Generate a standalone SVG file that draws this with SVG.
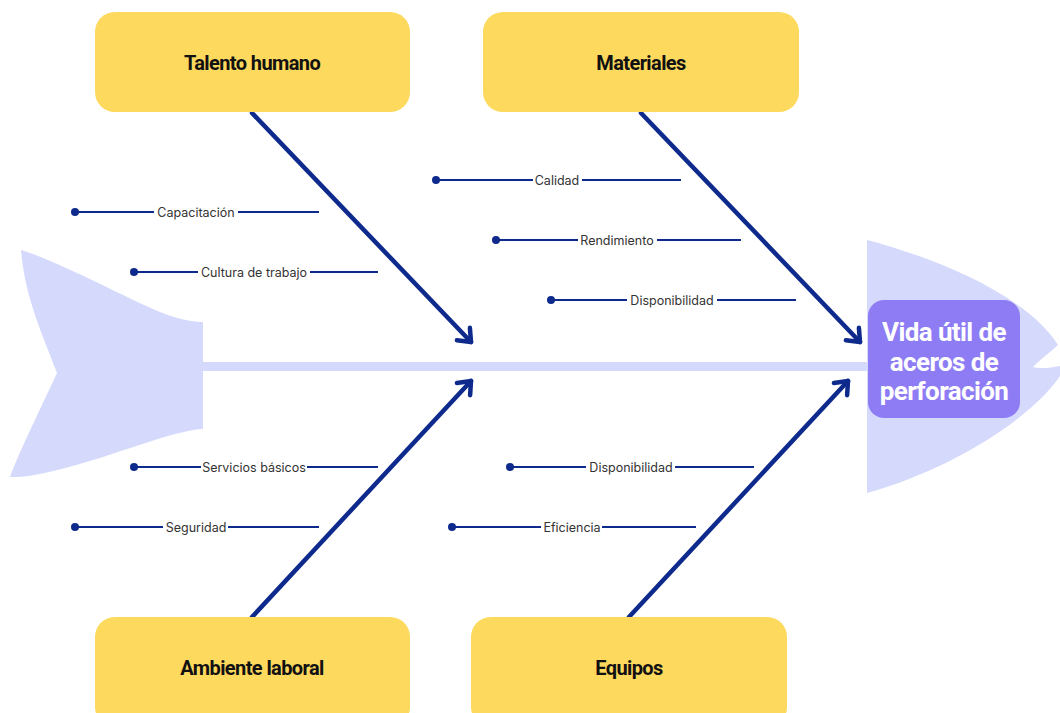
<svg xmlns="http://www.w3.org/2000/svg" width="1060" height="713" viewBox="0 0 1060 713">
<style>
.fish{fill:#D5DAFC}
.cat{fill:#FDD95D}
.cattxt{font-family:Roboto,"Liberation Sans",sans-serif;font-weight:700;font-size:20px;fill:#111;text-anchor:middle;letter-spacing:-0.6px}
.eff{fill:#8E7CF5}
.efftxt{font-family:Roboto,"Liberation Sans",sans-serif;font-weight:700;font-size:26px;fill:#fff;text-anchor:middle;letter-spacing:-0.6px}
.bone{stroke:#0E2A8C;stroke-width:4.5;fill:none;stroke-linecap:round}
.sub{stroke:#0E2A8C;stroke-width:2;fill:none}
.dot{fill:#0E2A8C}
.lbl{font-family:Inter,"Liberation Sans",sans-serif;font-size:12.5px;fill:#333;text-anchor:middle}
</style>
<defs>
<marker id="ah" markerUnits="userSpaceOnUse" viewBox="-16 -14 20 28" refX="0" refY="0" markerWidth="20" markerHeight="28" orient="auto">
<path d="M-11,-9 L0,0 L-11,9" stroke="#0E2A8C" stroke-width="4.5" fill="none" stroke-linecap="round" stroke-linejoin="round"/>
</marker>
</defs>
<g id="fish">
<path class="fish" d="M21,250 C60,262 120,295 160,312 C180,320 195,322 203,322 L203,429 C180,430 140,445 100,458 C60,470 30,478 10,477 C20,450 40,410 57,373 C45,340 25,300 21,250 Z"/>
<rect class="fish" x="200" y="362" width="672" height="9"/>
<path class="fish" d="M867,240 C950,262 1030,300 1058,345 C1050,352 1040,360 1033,367 C1040,369 1050,368 1060,366 L1060,376 C1030,420 950,470 867,493 Z"/>
</g>
<g id="connectors">
<line class="bone" x1="252" y1="113" x2="471" y2="342" marker-end="url(#ah)"/>
<line class="bone" x1="641" y1="113" x2="860" y2="342" marker-end="url(#ah)"/>
<line class="bone" x1="252" y1="617" x2="471" y2="381" marker-end="url(#ah)"/>
<line class="bone" x1="629" y1="617" x2="848" y2="381" marker-end="url(#ah)"/>
</g>
<g id="sub-causes">
<g id="capacitacion"><circle class="dot" cx="75" cy="212" r="4"/><path class="sub" d="M75,212 H154 M238,212 H319"/><text class="lbl" x="196" y="216.5">Capacitación</text></g>
<g id="cultura"><circle class="dot" cx="134" cy="272" r="4"/><path class="sub" d="M134,272 H198 M310,272 H378"/><text class="lbl" x="254" y="276.5">Cultura de trabajo</text></g>
<g id="calidad"><circle class="dot" cx="436" cy="180" r="4"/><path class="sub" d="M436,180 H533 M582,180 H681"/><text class="lbl" x="557" y="184.5">Calidad</text></g>
<g id="rendimiento"><circle class="dot" cx="496" cy="240" r="4"/><path class="sub" d="M496,240 H578 M657,240 H741"/><text class="lbl" x="617" y="244.5">Rendimiento</text></g>
<g id="disponibilidad1"><circle class="dot" cx="551" cy="300" r="4"/><path class="sub" d="M551,300 H627 M717,300 H796"/><text class="lbl" x="672" y="304.5">Disponibilidad</text></g>
<g id="servicios"><circle class="dot" cx="134" cy="467" r="4"/><path class="sub" d="M134,467 H201 M307,467 H378"/><text class="lbl" x="254" y="471.5">Servicios básicos</text></g>
<g id="seguridad"><circle class="dot" cx="75" cy="527" r="4"/><path class="sub" d="M75,527 H163 M228,527 H319"/><text class="lbl" x="196" y="531.5">Seguridad</text></g>
<g id="disponibilidad2"><circle class="dot" cx="510" cy="467" r="4"/><path class="sub" d="M510,467 H586 M675,467 H754"/><text class="lbl" x="631" y="471.5">Disponibilidad</text></g>
<g id="eficiencia"><circle class="dot" cx="452" cy="527" r="4"/><path class="sub" d="M452,527 H541 M602,527 H696"/><text class="lbl" x="572" y="531.5">Eficiencia</text></g>
</g>
<g id="talento"><rect class="cat" x="95" y="12" width="315" height="100" rx="20"/><text class="cattxt" x="252" y="70">Talento humano</text></g>
<g id="materiales"><rect class="cat" x="483" y="12" width="316" height="100" rx="20"/><text class="cattxt" x="641" y="70">Materiales</text></g>
<g id="ambiente"><rect class="cat" x="95" y="617" width="315" height="110" rx="20"/><text class="cattxt" x="252" y="675">Ambiente laboral</text></g>
<g id="equipos"><rect class="cat" x="471" y="617" width="316" height="110" rx="20"/><text class="cattxt" x="629" y="675">Equipos</text></g>
<g id="effect"><rect class="eff" x="868" y="300" width="152" height="118" rx="16"/>
<text class="efftxt" x="944" y="341">Vida útil de</text>
<text class="efftxt" x="944" y="371">aceros de</text>
<text class="efftxt" x="944" y="400">perforación</text></g>
</svg>
